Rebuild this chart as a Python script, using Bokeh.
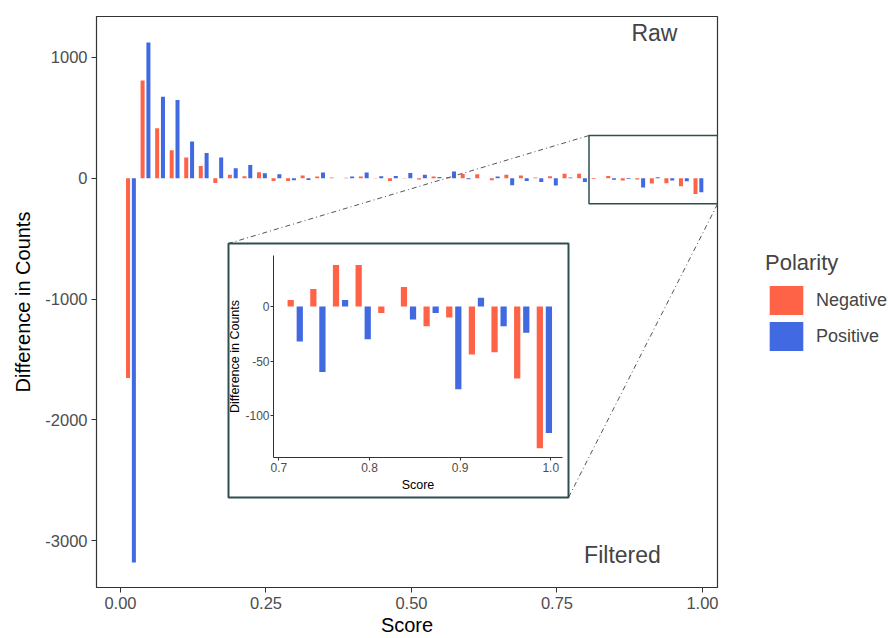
from bokeh.plotting import figure
from bokeh.models import (Range1d, FixedTicker, Label, Legend, LegendItem,
                          ColumnDataSource)
from bokeh.transform import dodge
from bokeh.embed import file_html
from bokeh.resources import INLINE

# ---------------- data ----------------
score = [0.0125, 0.0375, 0.0625, 0.0875, 0.1125, 0.1375, 0.1625, 0.1875,
         0.2125, 0.2375, 0.2625, 0.2875, 0.3125, 0.3375, 0.3625, 0.3875,
         0.4125, 0.4375, 0.4625, 0.4875, 0.5125, 0.5375, 0.5625, 0.5875,
         0.6125, 0.6375, 0.6625, 0.6875, 0.7125, 0.7375, 0.7625, 0.7875,
         0.8125, 0.8375, 0.8625, 0.8875, 0.9125, 0.9375, 0.9625, 0.9875]
negative = [-1654, 809, 414, 232, 171, 102, -39, 28,
            17, 50, -22, -22, 22, 14, 6, 4,
            14, 2, -22, 3, -11, 14, 11, 36,
            33, -17, 30, 22, 6, 16, 38, 38,
            -6, 18, -18, -10, -44, -42, -66, -130]
positive = [-3181, 1124, 674, 649, 304, 210, 171, 83,
            110, 41, 33, -17, -14, 47, 0, 14,
            47, 17, 19, 44, 28, 11, 55, -8,
            1, 14, -58, -22, -32, -60, 6, -30,
            0, -12, -6, -76, 8, -18, -24, -116]
series_names = ["Negative", "Positive"]
x_ticks = [0.0, 0.25, 0.5, 0.75, 1.0]
x_tick_labels = ["0.00", "0.25", "0.50", "0.75", "1.00"]
y_ticks = [-3000, -2000, -1000, 0, 1000]
y_tick_labels = ["-3000", "-2000", "-1000", "0", "1000"]
inset_min_score = 0.7
inset_x_ticks = [0.7, 0.8, 0.9, 1.0]
inset_x_tick_labels = ["0.7", "0.8", "0.9", "1.0"]
inset_y_ticks = [-100, -50, 0]
inset_y_tick_labels = ["-100", "-50", "0"]
zoom_window = {"x0": 0.805, "x1": 1.026, "y0": -212, "y1": 354}

# ---------------- style ----------------
FONT = "Liberation Sans"
NEG_COLOR = "#FF6347"
POS_COLOR = "#4169E1"
BOX_COLOR = "#2F4F4F"
AXIS_COLOR = "#333333"
TICK_TEXT = "#4D4D4D"
BAR_W = 0.0069
OFF_NEG, OFF_POS = 0.0005, 0.0105

src = ColumnDataSource(dict(score=score, negative=negative, positive=positive))

# ---------------- main figure ----------------
W, H = 888, 638
ML, MR, MT, MB = 96, 171, 16, 51
XR = (-0.0412, 1.0258)
YR = (-3389.0, 1339.5)

p = figure(width=W, height=H, x_range=Range1d(*XR), y_range=Range1d(*YR),
           output_backend="svg", toolbar_location=None,
           min_border_left=ML, min_border_right=MR,
           min_border_top=MT, min_border_bottom=MB)
p.grid.visible = False
p.outline_line_color = AXIS_COLOR
p.outline_line_width = 1.2

p.vbar(x=dodge("score", OFF_NEG, range=p.x_range), top="negative",
       bottom=0, width=BAR_W, source=src, fill_color=NEG_COLOR,
       line_color=None)
p.vbar(x=dodge("score", OFF_POS, range=p.x_range), top="positive",
       bottom=0, width=BAR_W, source=src, fill_color=POS_COLOR,
       line_color=None)

for ax in (p.xaxis[0], p.yaxis[0]):
    ax.axis_line_color = AXIS_COLOR
    ax.major_tick_line_color = AXIS_COLOR
    ax.major_tick_out = 5
    ax.major_tick_in = 0
    ax.minor_tick_line_color = None
    ax.major_label_text_font = FONT
    ax.major_label_text_font_size = "16.5px"
    ax.major_label_text_color = TICK_TEXT
    ax.axis_label_text_font = FONT
    ax.axis_label_text_font_size = "20px"
    ax.axis_label_text_font_style = "normal"
    ax.axis_label_text_color = "black"
p.xaxis.ticker = FixedTicker(ticks=x_ticks)
p.xaxis.major_label_overrides = dict(zip(x_ticks, x_tick_labels))
p.yaxis.ticker = FixedTicker(ticks=y_ticks)
p.yaxis.major_label_overrides = dict(zip(y_ticks, y_tick_labels))
p.xaxis.axis_label = "Score"
p.yaxis.axis_label = "Difference in Counts"
p.xaxis.major_label_standoff = 4
p.yaxis.major_label_standoff = 4
p.xaxis.axis_label_standoff = 2
p.yaxis.axis_label_standoff = 8

p.add_layout(Label(x=0.9175, y=1207, text="Raw", text_font=FONT,
                   text_font_size="23px", text_align="center",
                   text_baseline="middle"))
p.add_layout(Label(x=0.8625, y=-3118, text="Filtered", text_font=FONT,
                   text_font_size="23px", text_align="center",
                   text_baseline="middle"))

# zoom window rectangle in main plot
p.quad(left=[zoom_window["x0"]], right=[zoom_window["x1"]],
       bottom=[zoom_window["y0"]], top=[zoom_window["y1"]],
       fill_color=None, line_color=BOX_COLOR, line_width=1.5)

# pixel helpers (layout of the inset box on the page)
fw, fh = W - ML - MR, H - MT - MB
def px_x(px):
    return XR[0] + (px - ML) / fw * (XR[1] - XR[0])
def px_y(py):
    return YR[1] - (py - MT) / fh * (YR[1] - YR[0])

BOX_L, BOX_T, BOX_R, BOX_B = 228, 243, 568, 497
bx0, bx1 = px_x(BOX_L), px_x(BOX_R)
by0, by1 = px_y(BOX_T), px_y(BOX_B)

# connector lines
p.segment(x0=[zoom_window["x0"], zoom_window["x1"]],
          y0=[zoom_window["y1"], zoom_window["y0"]],
          x1=[bx0, bx1], y1=[by0, by1],
          line_color="#555555", line_width=1, line_dash="5 3 1 3")
# inset frame border (white panel under the transparent inset canvas)
p.quad(left=[bx0], right=[bx1], bottom=[by1], top=[by0],
       fill_color="white", line_color=BOX_COLOR, line_width=2)

# ---------------- inset figure ----------------
isrc = ColumnDataSource(dict(
    score=[s for s in score if s > inset_min_score],
    negative=[v for s, v in zip(score, negative) if s > inset_min_score],
    positive=[v for s, v in zip(score, positive) if s > inset_min_score]))

IFL, IFT, IFR, IFB = 273, 255, 562, 457   # inset frame edges on the page
IML, IMR, IMT, IMB = 56, 5, 11, 39
q = figure(width=IFR - IFL + IML + IMR, height=IFB - IFT + IMT + IMB,
           x_range=Range1d(0.694, 1.013), y_range=Range1d(-138.5, 46.8),
           output_backend="svg", toolbar_location=None,
           min_border_left=IML, min_border_right=IMR,
           min_border_top=IMT, min_border_bottom=IMB,
           styles={"position": "absolute", "left": f"{IFL - IML}px",
                   "top": f"{IFT - IMT}px", "z-index": "5"})
q.grid.visible = False
q.outline_line_color = None
q.background_fill_alpha = 0
q.border_fill_alpha = 0
q.vbar(x=dodge("score", OFF_NEG, range=q.x_range), top="negative", bottom=0,
       width=BAR_W, source=isrc, fill_color=NEG_COLOR, line_color=None)
q.vbar(x=dodge("score", OFF_POS, range=q.x_range), top="positive", bottom=0,
       width=BAR_W, source=isrc, fill_color=POS_COLOR, line_color=None)
for ax in (q.xaxis[0], q.yaxis[0]):
    ax.axis_line_color = AXIS_COLOR
    ax.major_tick_line_color = AXIS_COLOR
    ax.major_tick_out = 3
    ax.major_tick_in = 0
    ax.minor_tick_line_color = None
    ax.major_label_text_font = FONT
    ax.major_label_text_font_size = "12px"
    ax.major_label_text_color = TICK_TEXT
    ax.axis_label_text_font = FONT
    ax.axis_label_text_font_size = "12.5px"
    ax.axis_label_text_font_style = "normal"
    ax.axis_label_text_color = "black"
q.xaxis.major_label_standoff = 2
q.xaxis.axis_label_standoff = 3
q.yaxis.major_label_standoff = 1
q.yaxis.axis_label_standoff = 0
q.xaxis.ticker = FixedTicker(ticks=inset_x_ticks)
q.xaxis.major_label_overrides = dict(zip(inset_x_ticks, inset_x_tick_labels))
q.yaxis.ticker = FixedTicker(ticks=inset_y_ticks)
q.yaxis.major_label_overrides = dict(zip(inset_y_ticks, inset_y_tick_labels))
q.xaxis.axis_label = "Score"
q.yaxis.axis_label = "Difference in Counts"

# ---------------- legend (separate small canvas) ----------------
lg = figure(width=123, height=112, x_axis_type=None, y_axis_type=None,
            output_backend="svg", toolbar_location=None, min_border=0,
            outline_line_color=None,
            styles={"position": "absolute", "left": "765px", "top": "250px",
                    "z-index": "5"})
lg.grid.visible = False
k_neg = lg.vbar(x="score", top="negative", width=BAR_W, source=src,
                fill_color=NEG_COLOR, line_color=None, visible=False)
k_pos = lg.vbar(x="score", top="positive", width=BAR_W, source=src,
                fill_color=POS_COLOR, line_color=None, visible=False)
legend = Legend(items=[LegendItem(label=series_names[0], renderers=[k_neg]),
                       LegendItem(label=series_names[1], renderers=[k_pos])],
                title="Polarity", location="top_left",
                title_text_font=FONT, title_text_font_size="22px",
                title_text_font_style="normal", title_standoff=6,
                label_text_font=FONT, label_text_font_size="18px",
                glyph_width=42, glyph_height=36, spacing=0,
                label_standoff=9, padding=0, margin=0,
                inactive_fill_alpha=0,
                border_line_color=None, background_fill_alpha=0)
lg.add_layout(legend)

open("out.html", "w").write(file_html([p, q, lg], INLINE))
